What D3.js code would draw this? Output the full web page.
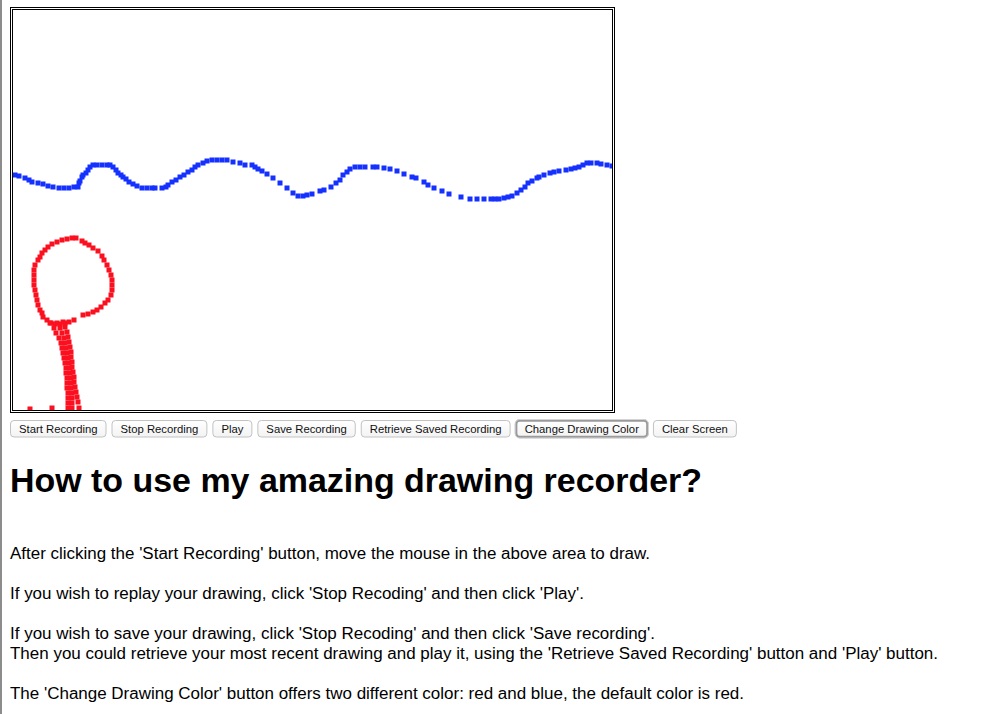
<!DOCTYPE html>
<html><head><meta charset="utf-8">
<script src="https://cdn.jsdelivr.net/npm/d3@7"></script>
<style>html,body{margin:0;padding:0;background:#fff;overflow:hidden}</style>
</head><body>
<script>
// recorded points in canvas pixel coordinates (canvas 600 x 400)
const bluePoints = [[2,165],[6,166],[12,168],[16,170],[19,172],[25,173],[30,174],[35,176],[40,177],[46,178],[51,178],[56,178],[61,177],[65,177],[66,173],[67,171],[69,167],[70,165],[73,163],[75,160],[77,157],[80,155],[84,155],[89,155],[94,155],[97,155],[100,157],[103,160],[105,163],[108,165],[110,167],[113,169],[116,172],[120,174],[124,176],[129,178],[134,178],[139,178],[142,178],[149,178],[153,177],[155,175],[159,172],[163,170],[167,167],[171,165],[175,162],[179,160],[182,157],[185,155],[190,153],[194,151],[199,150],[204,150],[209,150],[214,150],[220,152],[227,153],[232,155],[239,155],[242,157],[245,159],[249,161],[254,164],[260,168],[267,173],[274,178],[280,183],[285,186],[290,186],[294,185],[299,184],[307,181],[311,180],[318,177],[323,173],[327,170],[330,165],[334,162],[337,159],[342,157],[347,157],[352,157],[360,157],[364,157],[371,158],[377,159],[384,161],[391,164],[399,167],[403,168],[411,172],[415,175],[421,178],[429,181],[436,184],[448,187],[457,189],[464,189],[471,189],[478,189],[482,189],[486,189],[491,188],[495,187],[499,186],[504,183],[508,180],[512,177],[515,173],[519,171],[524,168],[526,167],[531,165],[537,163],[541,162],[546,161],[553,160],[558,159],[562,158],[566,157],[570,155],[574,153],[578,153],[584,153],[588,154],[594,155],[599,156]];
const redCircle = [[59,228],[63,228],[54,229],[49,230],[44,232],[39,234],[35,237],[32,240],[29,243],[27,247],[25,250],[22,255],[21,260],[21,265],[21,270],[21,275],[22,280],[23,285],[24,290],[25,295],[27,300],[29,303],[30,307],[34,310],[37,313],[42,314],[47,314],[52,313],[56,312],[61,310],[70,305],[75,304],[80,302],[84,300],[88,297],[92,293],[95,290],[98,285],[99,280],[99,275],[99,270],[98,265],[96,260],[94,255],[91,250],[89,246],[85,241],[80,238],[76,235],[72,233],[69,231]];
const redStem1 = [[38,313],[41,318],[43,323],[46,328],[48,333],[49,338],[50,343],[51,348],[52,353],[53,358],[53,363],[54,368],[54,373],[54,378],[55,383],[55,388],[55,393],[55,398]];
const redStem2 = [[44,313],[47,318],[49,323],[51,328],[52,333],[53,338],[54,343],[55,348],[56,353],[57,358],[57,363],[58,368],[58,373],[58,378],[59,383],[59,388],[59,393],[59,398]];
const redStem3 = [[50,312],[52,317],[54,322],[55,327],[56,332],[57,337],[58,342],[58,347],[59,352],[59,357],[60,362],[61,367],[61,372],[62,377],[63,382],[64,387],[65,392],[66,398]];
const redDots = [[17,399],[39,398]];

const buttonLabels = ["Start Recording","Stop Recording","Play","Save Recording","Retrieve Saved Recording","Change Drawing Color","Clear Screen"];
const focusedButton = "Change Drawing Color";
const heading = "How to use my amazing drawing recorder?";
const paragraphLines = [
  "After clicking the 'Start Recording' button, move the mouse in the above area to draw.",
  "If you wish to replay your drawing, click 'Stop Recoding' and then click 'Play'.",
  "If you wish to save your drawing, click 'Stop Recoding' and then click 'Save recording'.",
  "Then you could retrieve your most recent drawing and play it, using the 'Retrieve Saved Recording' button and 'Play' button.",
  "The 'Change Drawing Color' button offers two different color: red and blue, the default color is red."
];

const W = 988, H = 714;
const FONT = "'Liberation Sans', Arial, Helvetica, sans-serif";
const svg = d3.select("body").append("svg").attr("width", W).attr("height", H)
  .style("display","block").style("background","#fff");

// window edge line
svg.append("rect").attr("x",0).attr("y",0).attr("width",2).attr("height",H).attr("fill","#8c8c8c");

// canvas area
const cx0 = 13, cy0 = 10, cw = 600, ch = 400;
const x = d3.scaleLinear().domain([0,600]).range([cx0, cx0+cw]);
const y = d3.scaleLinear().domain([0,400]).range([cy0, cy0+ch]);

svg.append("rect").attr("x",10.5).attr("y",7.5).attr("width",604).attr("height",405)
  .attr("fill","none").attr("stroke","#000").attr("stroke-width",1);
svg.append("rect").attr("x",12.5).attr("y",9.5).attr("width",600).attr("height",401)
  .attr("fill","#fff").attr("stroke","#000").attr("stroke-width",1);

svg.append("clipPath").attr("id","cclip").append("rect")
  .attr("x",cx0).attr("y",cy0).attr("width",cw-1).attr("height",ch);
const g = svg.append("g").attr("clip-path","url(#cclip)");

function drawSquares(pts, color, size, cls){
  g.selectAll("rect."+cls).data(pts).join("rect").attr("class",cls)
    .attr("x", d => x(d[0]) - size/2).attr("y", d => y(d[1]) - size/2)
    .attr("width", size).attr("height", size).attr("fill", color);
}
const BLUE = "#1431ff", RED = "#fb1020";
drawSquares(bluePoints, BLUE, 5, "b");
drawSquares(redCircle, RED, 5, "rc");
drawSquares(redStem1, RED, 5, "r1");
drawSquares(redStem2, RED, 5, "r2");
drawSquares(redStem3, RED, 5, "r3");
drawSquares(redDots, RED, 5, "rd");

// buttons
const defs = svg.append("defs");
const grad = defs.append("linearGradient").attr("id","bgrad").attr("x1",0).attr("y1",0).attr("x2",0).attr("y2",1);
grad.append("stop").attr("offset","0").attr("stop-color","#ffffff");
grad.append("stop").attr("offset","1").attr("stop-color","#f3f3f3");

let bx = 10.5;
const by = 420.5, bh = 16.5, gap = 6, pad = 8.5;
buttonLabels.forEach(label => {
  const bg = svg.append("g");
  const t = bg.append("text").text(label).attr("font-family",FONT).attr("font-size",11.3)
    .attr("fill","#111").attr("text-anchor","middle").attr("y",433.3);
  const tw = t.node().getComputedTextLength();
  const bw = tw + pad*2;
  const focused = label === focusedButton;
  bg.insert("rect","text").attr("x",bx).attr("y",by).attr("width",bw).attr("height",bh)
    .attr("rx",3.5).attr("fill","url(#bgrad)")
    .attr("stroke", focused ? "#9a9a9a" : "#c2c2c2").attr("stroke-width", focused ? 2.5 : 1);
  if (focused) {
    bg.insert("rect","text").attr("x",bx-1).attr("y",by-1).attr("width",bw+2).attr("height",bh+2)
      .attr("rx",4.5).attr("fill","none").attr("stroke","#d4d4d4").attr("stroke-width",1);
  }
  t.attr("x", bx + bw/2);
  bx += bw + gap;
});

// heading
svg.append("text").text(heading).attr("x",10).attr("y",492).attr("font-family",FONT)
  .attr("font-weight","bold").attr("font-size",34).attr("fill","#000")
  .attr("textLength",692).attr("lengthAdjust","spacingAndGlyphs");

// paragraphs
const lineY = [559, 599, 639, 659, 699];
const lineW = [640, 574, 645, 928, 734];
svg.selectAll("text.p").data(paragraphLines).join("text").attr("class","p")
  .text(d => d).attr("x",10).attr("y",(d,i) => lineY[i])
  .attr("font-family",FONT).attr("font-size",16).attr("fill","#000")
  .attr("textLength",(d,i) => lineW[i]).attr("lengthAdjust","spacingAndGlyphs");
</script>
</body></html>
